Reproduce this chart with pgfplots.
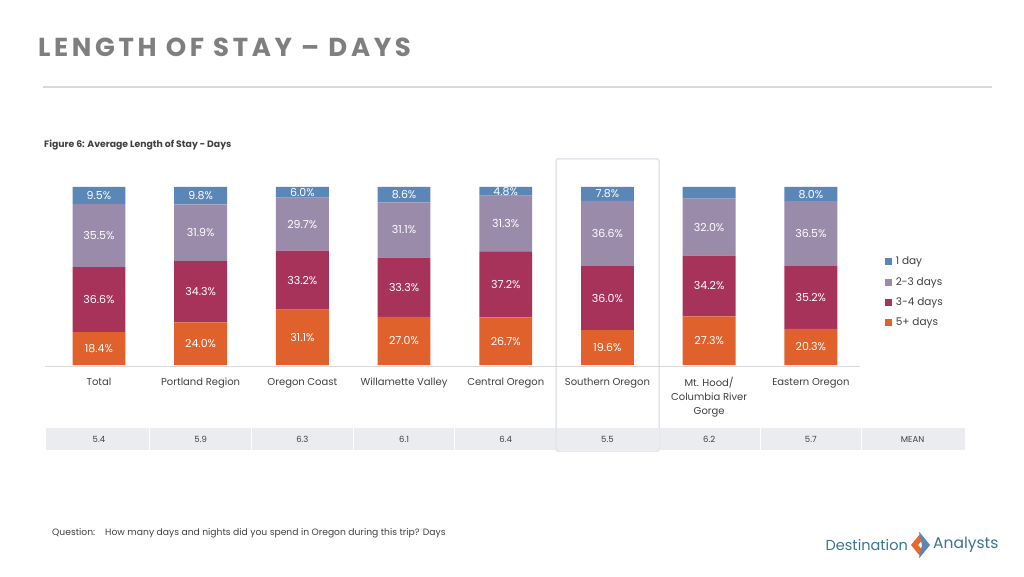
\documentclass[border=0pt]{standalone}
\usepackage{fontspec}
\setmainfont{Poppins}
\usepackage{pgfplots}
\usepackage{pgfplotstable}
\pgfplotsset{compat=1.18}
\definecolor{c1}{HTML}{5B86B8}
\definecolor{c2}{HTML}{9B8BAB}
\definecolor{c3}{HTML}{A8335A}
\definecolor{c4}{HTML}{E0612C}
\definecolor{txt}{HTML}{404040}
\definecolor{ttl}{HTML}{7F7F7F}
\definecolor{rule}{HTML}{D9D9D9}
\definecolor{meanbg}{HTML}{EBECEF}
\definecolor{hbox}{HTML}{E2E5E9}
\definecolor{logoblue}{HTML}{3A7490}
\definecolor{logoorange}{HTML}{E8692E}
\newcommand\st{\rule{0pt}{7.5pt}}

\pgfplotstableread{
x five three two one
0 18.4 36.6 35.5 9.5
1 24.0 34.3 31.9 9.8
2 31.1 33.2 29.7 6.0
3 27.0 33.3 31.1 8.6
4 26.7 37.2 31.3 4.8
5 19.6 36.0 36.6 7.8
6 27.3 34.2 32.0 6.5
7 20.3 35.2 36.5 8.0
}\datatab

% label positions (segment midpoints)
\pgfplotstableread{
x y lab
0 9.2 18.4
0 36.7 36.6
0 72.75 35.5
0 95.25 9.5
1 12 24.0
1 41.15 34.3
1 74.25 31.9
1 95.1 9.8
2 15.55 31.1
2 47.7 33.2
2 79.15 29.7
2 97 6.0
3 13.5 27.0
3 43.65 33.3
3 75.85 31.1
3 95.7 8.6
4 13.35 26.7
4 45.3 37.2
4 79.55 31.3
4 97.6 4.8
5 9.8 19.6
5 37.6 36.0
5 73.9 36.6
5 96.1 7.8
6 13.65 27.3
6 44.4 34.2
6 77.5 32.0
7 10.15 20.3
7 37.9 35.2
7 73.75 36.5
7 96 8.0
}\labtab

\pgfplotstableread{
x y lab
0 -41.6 5.4
1 -41.6 5.9
2 -41.6 6.3
3 -41.6 6.1
4 -41.6 6.4
5 -41.6 5.5
6 -41.6 6.2
7 -41.6 5.7
}\meantab

\begin{document}
\begin{tikzpicture}
\fill[white] (0pt,0pt) rectangle (1024pt,576pt);
% title
\node[anchor=base west, text=ttl, inner sep=0pt] at (38pt,519.5pt)
  {\fontsize{26}{30}\selectfont\bfseries\addfontfeature{LetterSpace=14}LENGTH OF STAY – DAYS};
\draw[rule, line width=1.2pt] (43pt,489pt) -- (992pt,489pt);
\node[anchor=west, text=txt, inner sep=0pt] at (44pt,431pt)
  {\fontsize{9.3}{11}\selectfont\bfseries Figure 6: Average Length of Stay - Days};
% mean row
\fill[meanbg] (46pt,126pt) rectangle (965pt,148pt);
\foreach \s in {149.8,251.5,353.2,454.9,556.6,658.3,760,861.7}
  \draw[white, line width=1pt] (\s pt,126pt) -- (\s pt,148pt);
% highlight box
\draw[hbox, line width=1.5pt, rounded corners=1.5pt] (556pt,125pt) rectangle (659pt,417pt);
% baseline
\draw[rule, line width=1pt] (45pt,210pt) -- (860pt,210pt);
% footer
\node[anchor=west, text=txt, inner sep=0pt] at (52pt,43pt)
  {\fontsize{9.2}{11}\selectfont\makebox[53pt][l]{Question:}How many days and nights did you spend in Oregon during this trip? Days};
% logo
\node[anchor=east, text=logoblue, inner sep=0pt] at (908pt,31pt) {\fontsize{14.5}{16}\selectfont Destination};
\node[anchor=west, text=logoblue, inner sep=0pt] at (933pt,31pt) {\fontsize{15.5}{17}\selectfont Analysts};
\fill[logoorange] (911pt,31pt) -- (920pt,42pt) -- (924pt,38pt) -- (918pt,31pt) -- (924pt,24pt) -- (920pt,20pt) -- cycle;
\fill[c1] (930pt,31pt) -- (921pt,42pt) -- (919pt,44pt) -- (922pt,31pt) -- (919pt,18pt) -- (921pt,20pt) -- cycle;

\begin{axis}[
  at={(48.1pt,211pt)}, anchor=south west, scale only axis,
  width=915.3pt, height=178pt,
  xmin=-0.5, xmax=8.5, ymin=0, ymax=100,
  ybar stacked, bar width=0.52,
  axis line style={draw=none}, ytick=\empty,
  xtick={0,...,7}, major tick length=0pt,
  xticklabels={\st Total, \st Portland Region, \st Oregon Coast, \st Willamette Valley, \st Central Oregon, \st Southern Oregon, {\st Mt. Hood/\\Columbia River\\Gorge}, \st Eastern Oregon},
  xticklabel style={font=\fontsize{10}{14}\selectfont, text=txt, align=center, anchor=north, yshift=-9pt},
  clip=false,
  reverse legend,
  legend cell align=left,
  legend style={at={(0.914,0.607)}, anchor=north west, draw=none, fill=none,
    font=\fontsize{10.5}{12}\selectfont, text=txt, row sep=11pt, inner sep=0pt,
    nodes={inner xsep=4pt, inner ysep=0pt}},
  legend image code/.code={\fill[#1] (0pt,-3.5pt) rectangle (7pt,3.5pt);},
]
\addplot[fill=c4, draw=none] table[x=x, y=five] {\datatab};
\addplot[fill=c3, draw=none] table[x=x, y=three] {\datatab};
\addplot[fill=c2, draw=none] table[x=x, y=two] {\datatab};
\addplot[fill=c1, draw=none] table[x=x, y=one] {\datatab};
\legend{5+ days, 3-4 days, 2-3 days, 1 day}
\end{axis}

\begin{axis}[
  at={(48.1pt,211pt)}, anchor=south west, scale only axis,
  width=915.3pt, height=178pt,
  xmin=-0.5, xmax=8.5, ymin=0, ymax=100,
  hide axis, clip=false,
]
\addplot[draw=none, mark=none, nodes near coords={\pgfplotspointmeta\%},
  point meta=explicit symbolic,
  every node near coord/.style={anchor=center, text=white, font=\fontsize{11}{13}\selectfont, inner sep=0pt}]
  table[x=x, y=y, meta=lab] {\labtab};
\addplot[draw=none, mark=none, nodes near coords={\pgfplotspointmeta},
  point meta=explicit symbolic,
  every node near coord/.style={anchor=center, text=txt, font=\fontsize{8.5}{10}\selectfont, inner sep=0pt}]
  table[x=x, y=y, meta=lab] {\meantab};
\addplot[draw=none, mark=none, nodes near coords={MEAN},
  every node near coord/.style={anchor=center, text=txt, font=\fontsize{8.5}{10}\selectfont, inner sep=0pt}]
  coordinates {(8,-41.6)};
\end{axis}
\end{tikzpicture}
\end{document}
